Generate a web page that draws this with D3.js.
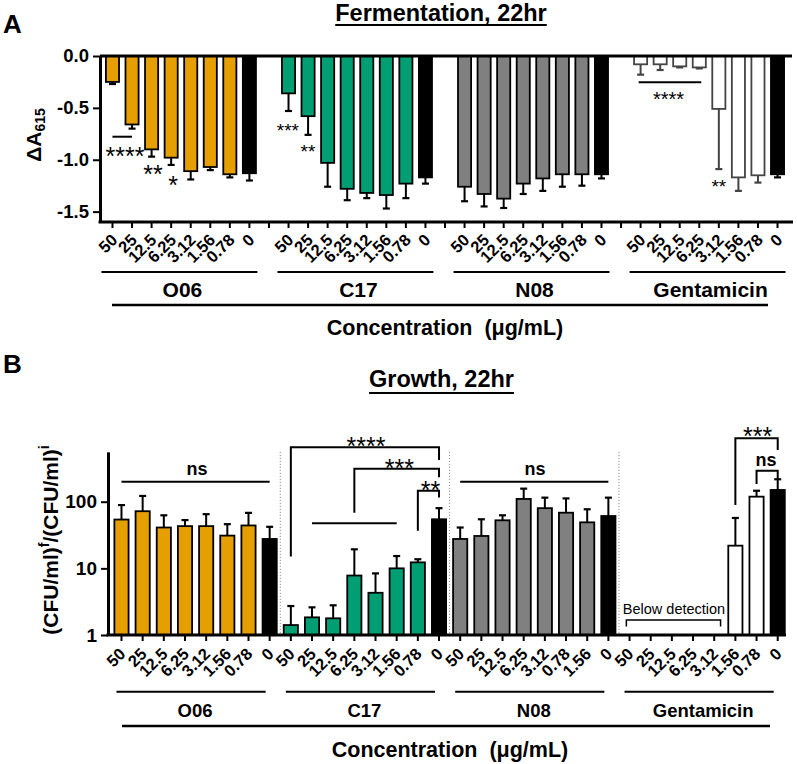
<!DOCTYPE html>
<html><head><meta charset="utf-8">
<script src="https://cdn.jsdelivr.net/npm/d3@7"></script>
<style>body{margin:0;background:#fff}svg{display:block}text{white-space:pre}</style>
</head><body><svg id="c" width="797" height="764"></svg>
<script>
// ---------- DATA ----------
const groups = ["O06","C17","N08","Gentamicin"];
const concLabels = ["50","25","12.5","6.25","3.12","1.56","0.78","0"];
const concLabelsGrowthN08 = ["50","25","12.5","6.25","3.12","0.78","1.56","0"];
const fermTicks = [0,-0.5,-1.0,-1.5];
const growthTicks = [1,10,100];

// Panel A: Fermentation, 22hr (delta A615), mean and SD
const fermO06 = [-0.25,-0.66,-0.90,-0.98,-1.11,-1.07,-1.14,-1.13];
const fermO06Err = [0.02,0.04,0.07,0.07,0.08,0.03,0.03,0.07];
const fermC17 = [-0.36,-0.58,-1.03,-1.28,-1.32,-1.34,-1.23,-1.17];
const fermC17Err = [0.17,0.18,0.23,0.11,0.05,0.13,0.14,0.06];
const fermN08 = [-1.26,-1.33,-1.375,-1.23,-1.18,-1.14,-1.14,-1.14];
const fermN08Err = [0.14,0.12,0.09,0.10,0.12,0.12,0.11,0.04];
const fermGen = [-0.08,-0.08,-0.10,-0.11,-0.51,-1.17,-1.15,-1.14];
const fermGenErr = [0.10,0.055,0.01,0.01,0.58,0.13,0.07,0.03];

// Panel B: Growth, 22hr ((CFU/ml)f/(CFU/ml)i), mean and SD; null = below detection
const growO06 = [54,72,41,43,43,31,44,27.6];
const growO06Err = [35,50,21.5,10,22,15,24,14.4];
const growC17 = [1.41,1.84,1.78,7.8,4.3,10,12.3,54.5];
const growC17Err = [1.31,0.76,1.01,11.5,4.1,5.3,1.4,25.5];
const growN08 = [27.6,30.6,52.6,110,80,68.4,49,61];
const growN08Err = [13.4,23.9,9.9,47,35,43.6,28,54];
const growGen = [null,null,null,null,null,21.9,119,150];
const growGenErr = [null,null,null,null,null,35.1,27,67];

// significance annotations (slot index, value)
const fermSigLines = [{from:0,to:1,v:-0.778},{from:26.9,to:30.1,v:-0.253}];
const fermSigText = [
  {t:"****",s:0.64,v:-0.916,size:25},{t:"**",s:2.07,v:-1.09,size:25},{t:"*",s:3.1,v:-1.195,size:25},
  {t:"***",s:8.97,v:-0.675,size:19},{t:"**",s:9.99,v:-0.884,size:19},
  {t:"****",s:28.43,v:-0.373,size:20},{t:"**",s:31.0,v:-1.214,size:19}];
const growBrackets = [
  {from:8,to:15,top:655,lb:15,rb:423},
  {from:11,to:15,top:313,lb:68,rb:232},
  {from:14,to:15,top:146,lb:36.7,rb:116},
  {from:29,to:31,top:893,lb:89,rb:597},
  {from:30,to:31,top:292,lb:185,rb:217}];
const growLines = [{from:0,to:7,v:200},{from:16,to:23,v:200},{from:9,to:13,v:47.4}];
const growText = [
  {t:"****",s:11.55,v:828,size:25},{t:"***",s:13.13,v:384,size:25},{t:"**",s:14.6,v:178,size:25},
  {t:"***",s:30.05,v:1170,size:25},
  {t:"ns",s:3.57,v:296,size:18},{t:"ns",s:19.53,v:296,size:18},{t:"ns",s:30.45,v:404,size:18}];

// ---------- STYLE ----------
const FONT = '"Liberation Sans", Arial, Helvetica, sans-serif';
const groupColors = ["#E69F00","#009E73","#808080","#FFFFFF"];
const svg = d3.select("#c").attr("font-family",FONT).attr("font-weight","bold");

function underlineTitle(x,y,txt,size,uy){
  const t = svg.append("text").attr("x",x).attr("y",y).attr("text-anchor","middle")
    .attr("font-size",size).text(txt);
  const bb = t.node().getBBox();
  svg.append("line").attr("x1",bb.x).attr("x2",bb.x+bb.width).attr("y1",uy).attr("y2",uy)
    .attr("stroke","#000").attr("stroke-width",2);
}
function sigY(d){ return (/\*/.test(d.t) ? 0.56 : 0.26)*d.size; }

// ================= PANEL A =================
svg.append("text").attr("x",3).attr("y",33).attr("font-size",26).text("A");
underlineTitle(441,21,"Fermentation, 22hr",23.5,25);

const xA = d3.scaleBand().domain(d3.range(35)).range([102.7,787.3]).paddingInner(0.33).paddingOuter(0.165);
const cA = s => xA(0) + s*xA.step() + xA.bandwidth()/2;
const yA = d3.scaleLinear().domain([-1.6,0]).range([222,56]);
const fermVals = [fermO06,fermC17,fermN08,fermGen];
const fermErrs = [fermO06Err,fermC17Err,fermN08Err,fermGenErr];

const gA = svg.append("g");
groups.forEach((grp,gi)=>{
  fermVals[gi].forEach((v,j)=>{
    const s = gi*9+j, ctrl = j===7;
    const stroke = (gi===3 && !ctrl) ? "#444" : "#000";
    const e = fermErrs[gi][j];
    gA.append("line").attr("x1",cA(s)).attr("x2",cA(s)).attr("y1",yA(v)).attr("y2",yA(v-e))
      .attr("stroke",stroke).attr("stroke-width",2);
    gA.append("line").attr("x1",cA(s)-3.5).attr("x2",cA(s)+3.5).attr("y1",yA(v-e)).attr("y2",yA(v-e))
      .attr("stroke",stroke).attr("stroke-width",2.2);
    gA.append("rect").attr("x",xA(s)).attr("width",xA.bandwidth())
      .attr("y",yA(0)).attr("height",yA(v)-yA(0))
      .attr("fill",ctrl?"#000":groupColors[gi]).attr("stroke",stroke).attr("stroke-width",1.8);
  });
});
svg.append("line").attr("x1",100).attr("x2",792).attr("y1",yA(0)).attr("y2",yA(0))
  .attr("stroke","#000").attr("stroke-width",3);
const axL = svg.append("g").attr("transform","translate(100,0)")
  .call(d3.axisLeft(yA).tickValues(fermTicks).tickFormat(d=>d.toFixed(1)).tickSize(7).tickSizeOuter(0).tickPadding(4));
axL.select(".domain").attr("stroke-width",3);
axL.selectAll(".tick line").attr("stroke-width",2);
axL.selectAll("text").attr("font-size",18.5).attr("font-family",FONT).attr("font-weight","bold");
const labA = i => { const j=i%9; return j===8 ? "" : concLabels[j]; };
const axB = svg.append("g").attr("transform","translate(0,222)")
  .call(d3.axisBottom(xA).tickFormat(labA).tickSize(6).tickSizeOuter(0));
axB.select(".domain").remove();
axB.selectAll(".tick line").attr("stroke-width",2);
axB.selectAll("text").attr("y",null).attr("dy",null).attr("text-anchor","end")
  .attr("transform","translate(6,19) rotate(-45)")
  .attr("font-size",16.5).attr("font-family",FONT).attr("font-weight","bold");
svg.append("line").attr("x1",98.5).attr("x2",793).attr("y1",222).attr("y2",222)
  .attr("stroke","#000").attr("stroke-width",3);
groups.forEach((grp,gi)=>{
  const x1 = cA(gi*9)-11, x2 = cA(gi*9+7)+8;
  svg.append("line").attr("x1",x1).attr("x2",x2).attr("y1",272).attr("y2",272)
    .attr("stroke","#000").attr("stroke-width",2);
  svg.append("text").attr("x",(x1+x2)/2+3).attr("y",297).attr("text-anchor","middle")
    .attr("font-size",21).text(grp);
});
svg.append("line").attr("x1",112).attr("x2",768).attr("y1",305).attr("y2",305)
  .attr("stroke","#000").attr("stroke-width",2.5);
svg.append("text").attr("x",445).attr("y",335).attr("text-anchor","middle").attr("font-size",21.5)
  .text("Concentration  (\u03bcg/mL)");
const ylA = svg.append("text").attr("transform","translate(41,135) rotate(-90)").attr("text-anchor","middle");
ylA.append("tspan").attr("font-size",21).text("\u0394A");
ylA.append("tspan").attr("font-size",14).attr("dy",4).text("615");
fermSigLines.forEach(d=>svg.append("line").attr("x1",cA(d.from)).attr("x2",cA(d.to))
  .attr("y1",yA(d.v)).attr("y2",yA(d.v)).attr("stroke","#000").attr("stroke-width",2));
fermSigText.forEach(d=>svg.append("text").attr("x",cA(d.s)).attr("y",yA(d.v)+sigY(d))
  .attr("text-anchor","middle").attr("font-size",d.size).attr("font-weight","normal").text(d.t));

// ================= PANEL B =================
svg.append("text").attr("x",3).attr("y",373).attr("font-size",26).text("B");
underlineTitle(441.5,387,"Growth, 22hr",23.5,393);

const xB = d3.scaleBand().domain(d3.range(32)).range([110.9,788.3]).paddingInner(0.33).paddingOuter(0.165);
const cB = s => xB(0) + s*xB.step() + xB.bandwidth()/2;
const yB = d3.scaleLog().domain([1,560]).range([635,635-66.65*Math.log10(560)]);
const growVals = [growO06,growC17,growN08,growGen];
const growErrs = [growO06Err,growC17Err,growN08Err,growGenErr];

[7.5,15.5,23.5].forEach(s=>svg.append("line").attr("x1",cB(s)).attr("x2",cB(s))
  .attr("y1",yB(560)).attr("y2",635).attr("stroke","#777").attr("stroke-width",1).attr("stroke-dasharray","1,2"));

const gB = svg.append("g");
groups.forEach((grp,gi)=>{
  growVals[gi].forEach((v,j)=>{
    if(v==null) return;
    const s = gi*8+j, ctrl = j===7, e = growErrs[gi][j];
    gB.append("line").attr("x1",cB(s)).attr("x2",cB(s)).attr("y1",yB(v)).attr("y2",yB(v+e))
      .attr("stroke","#000").attr("stroke-width",2);
    gB.append("line").attr("x1",cB(s)-3.5).attr("x2",cB(s)+3.5).attr("y1",yB(v+e)).attr("y2",yB(v+e))
      .attr("stroke","#000").attr("stroke-width",2.2);
    gB.append("rect").attr("x",xB(s)).attr("width",xB.bandwidth())
      .attr("y",yB(v)).attr("height",yB(1)-yB(v))
      .attr("fill",ctrl?"#000":groupColors[gi]).attr("stroke","#000").attr("stroke-width",1.8);
  });
});
const axLB = svg.append("g").attr("transform","translate(108,0)")
  .call(d3.axisLeft(yB).tickValues(growthTicks).tickFormat(d3.format("d")).tickSize(7).tickSizeOuter(0).tickPadding(4));
axLB.select(".domain").attr("stroke-width",3);
axLB.selectAll(".tick line").attr("stroke-width",2);
axLB.selectAll("text").attr("font-size",19).attr("font-family",FONT).attr("font-weight","bold");
const labB = i => { const g=Math.floor(i/8), j=i%8; return g===2 ? concLabelsGrowthN08[j] : concLabels[j]; };
const axBB = svg.append("g").attr("transform","translate(0,635)")
  .call(d3.axisBottom(xB).tickFormat(labB).tickSize(6).tickSizeOuter(0));
axBB.select(".domain").remove();
axBB.selectAll(".tick line").attr("stroke-width",2);
axBB.selectAll("text").attr("y",null).attr("dy",null).attr("text-anchor","end")
  .attr("transform","translate(5,20) rotate(-45)")
  .attr("font-size",16.5).attr("font-family",FONT).attr("font-weight","bold");
svg.append("line").attr("x1",106.5).attr("x2",786).attr("y1",635).attr("y2",635)
  .attr("stroke","#000").attr("stroke-width",3);
groups.forEach((grp,gi)=>{
  const x1 = cB(gi*8)-5, x2 = cB(gi*8+7)-4;
  svg.append("line").attr("x1",x1).attr("x2",x2).attr("y1",691.7).attr("y2",691.7)
    .attr("stroke","#000").attr("stroke-width",2);
  svg.append("text").attr("x",(x1+x2)/2+4).attr("y",717).attr("text-anchor","middle")
    .attr("font-size",18.5).text(grp);
});
svg.append("line").attr("x1",122).attr("x2",770).attr("y1",726).attr("y2",726)
  .attr("stroke","#000").attr("stroke-width",2.5);
svg.append("text").attr("x",450).attr("y",757).attr("text-anchor","middle").attr("font-size",21.5)
  .text("Concentration  (\u03bcg/mL)");
const ylB = svg.append("text").attr("transform","translate(58,540) rotate(-90)").attr("text-anchor","middle").attr("font-size",21);
ylB.append("tspan").text("(CFU/ml)");
ylB.append("tspan").attr("font-size",14).attr("dy",-9).text("f");
ylB.append("tspan").attr("dy",9).text("/(CFU/ml)");
ylB.append("tspan").attr("font-size",14).attr("dy",-9).text("i");

growBrackets.forEach(d=>{
  const p = d3.path();
  p.moveTo(cB(d.from),yB(d.lb)); p.lineTo(cB(d.from),yB(d.top));
  p.lineTo(cB(d.to),yB(d.top)); p.lineTo(cB(d.to),yB(d.rb));
  svg.append("path").attr("d",p.toString()).attr("fill","none").attr("stroke","#000").attr("stroke-width",2);
});
growLines.forEach(d=>svg.append("line").attr("x1",cB(d.from)).attr("x2",cB(d.to))
  .attr("y1",yB(d.v)).attr("y2",yB(d.v)).attr("stroke","#000").attr("stroke-width",2));
growText.forEach(d=>svg.append("text").attr("x",cB(d.s)).attr("y",yB(d.v)+sigY(d))
  .attr("text-anchor","middle").attr("font-size",d.size)
  .attr("font-weight",/\*/.test(d.t)?"normal":"bold").text(d.t));
{
  const p = d3.path();
  p.moveTo(cB(23.85),yB(1.34)); p.lineTo(cB(23.85),yB(1.68));
  p.lineTo(cB(28.3),yB(1.68)); p.lineTo(cB(28.3),yB(1.34));
  svg.append("path").attr("d",p.toString()).attr("fill","none").attr("stroke","#000").attr("stroke-width",1.5);
  svg.append("text").attr("x",cB(26.1)).attr("y",yB(2.07)).attr("text-anchor","middle")
    .attr("font-size",14.5).attr("font-weight","normal").text("Below detection");
}
</script></body></html>
